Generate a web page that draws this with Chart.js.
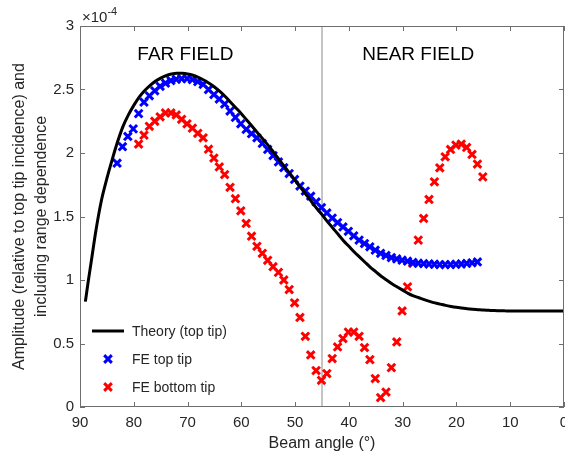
<!DOCTYPE html>
<html>
<head>
<meta charset="utf-8">
<script src="https://cdn.jsdelivr.net/npm/chart.js@4/dist/chart.umd.min.js"></script>
<style>
  html, body { margin: 0; padding: 0; background: #fff; }
</style>
</head>
<body>
<canvas id="beamChart" width="565" height="456"></canvas>
<script>
// amplitudes are in units of 1e-4 (axis shows the x10^-4 multiplier)
const theoryAngles = [89, 88.5, 88, 87, 86, 85, 84, 83, 82, 81, 80, 79, 78, 77, 76, 75, 74, 73, 72, 71,
  70, 69, 68, 67, 66, 65, 64, 63, 62, 61, 60, 59, 58, 57, 56, 55, 54, 53, 52, 51,
  50, 49, 48, 47, 46, 45, 44, 43, 42, 41, 40, 39, 38, 37, 36, 35, 34, 33, 32, 31,
  30, 29, 28, 27, 26, 25, 24, 23, 22, 21, 20, 19, 18, 17, 16, 15, 14, 13, 12, 11,
  10, 8, 6, 4, 2, 0];
const theoryAmp = [0.83, 0.98, 1.12, 1.40, 1.63, 1.80, 1.95, 2.09, 2.21, 2.30, 2.375, 2.44, 2.49, 2.53, 2.565, 2.59, 2.61, 2.622, 2.628, 2.627,
  2.622, 2.612, 2.595, 2.575, 2.55, 2.52, 2.485, 2.445, 2.40, 2.355, 2.31, 2.26, 2.21, 2.16, 2.11, 2.06, 2.005, 1.95, 1.895, 1.84,
  1.785, 1.73, 1.675, 1.62, 1.565, 1.515, 1.46, 1.41, 1.36, 1.31, 1.265, 1.22, 1.18, 1.14, 1.10, 1.065, 1.03, 1.00, 0.97, 0.945,
  0.92, 0.895, 0.875, 0.86, 0.845, 0.832, 0.82, 0.81, 0.80, 0.792, 0.785, 0.779, 0.773, 0.769, 0.766, 0.763, 0.761, 0.759, 0.758, 0.757,
  0.756, 0.755, 0.755, 0.755, 0.755, 0.755];

const topTipAngles = [83.1, 82.1, 81.1, 80.1, 79.1, 78.1, 77.1, 76.1, 75.1, 74.1, 73.1, 72.1, 71.1, 70.1, 69.1, 68.1, 67.1,
  66.1, 65.1, 64.1, 63.1, 62.1, 61.1, 60.1, 59.1, 58.1, 57.1, 56.1, 55.1, 54.1, 53.1, 52.1, 51.1, 50.1,
  49.1, 48.1, 47.1, 46.1, 45.1, 44.1, 43.1, 42.1, 41.1, 40.1, 39.1, 38.1, 37.1, 36.1, 35.1, 34.1, 33.1,
  32.1, 31.1, 30.1, 29.1, 28.1, 27.1, 26.1, 25.1, 24.1, 23.1, 22.1, 21.1, 20.1, 19.1, 18.1, 17.1, 16.1];
const topTipAmp = [1.92, 2.05, 2.13, 2.19, 2.31, 2.40, 2.45, 2.49, 2.525, 2.55, 2.57, 2.58, 2.585, 2.585, 2.578, 2.562, 2.54,
  2.50, 2.46, 2.425, 2.385, 2.33, 2.28, 2.23, 2.186, 2.152, 2.12, 2.075, 2.028, 1.98, 1.93, 1.884, 1.838, 1.792,
  1.74, 1.70, 1.66, 1.615, 1.57, 1.528, 1.488, 1.452, 1.418, 1.383, 1.348, 1.314, 1.287, 1.261, 1.235, 1.21, 1.193,
  1.177, 1.166, 1.156, 1.148, 1.138, 1.132, 1.128, 1.126, 1.124, 1.122, 1.122, 1.122, 1.124, 1.126, 1.13, 1.135, 1.142];

const bottomTipAngles = [79.1, 78.1, 77.1, 76.1, 75.1, 74.1, 73.1, 72.1, 71.1, 70.1, 69.1, 68.1, 67.1,
  66.1, 65.1, 64.1, 63.1, 62.1, 61.1, 60.1, 59.1, 58.1, 57.1, 56.1, 55.1, 54.1, 53.1, 52.1, 51.1, 50.1,
  49.1, 48.1, 47.1, 46.1, 45.1, 44.1, 43.1, 42.1, 41.1, 40.1, 39.1, 38.1, 37.1, 36.1, 35.1, 34.1, 33.1,
  32.1, 31.1, 30.1, 29.1, 28.1, 27.1, 26.1, 25.1, 24.1, 23.1, 22.1, 21.1, 20.1, 19.1, 18.1, 17.1, 16.1, 15.1];
const bottomTipAmp = [2.07, 2.14, 2.21, 2.25, 2.285, 2.315, 2.315, 2.30, 2.265, 2.23, 2.195, 2.155, 2.12,
  2.03, 1.96, 1.89, 1.83, 1.73, 1.64, 1.545, 1.445, 1.345, 1.265, 1.21, 1.155, 1.105, 1.06, 1.00, 0.925, 0.82,
  0.705, 0.557, 0.41, 0.287, 0.21, 0.263, 0.381, 0.473, 0.539, 0.59, 0.59, 0.557, 0.468, 0.373, 0.224, 0.074, 0.118,
  0.31, 0.512, 0.756, 0.946, 1.13, 1.314, 1.485, 1.634, 1.773, 1.883, 1.97, 2.028, 2.062, 2.07, 2.044, 1.989, 1.913, 1.812];

const fieldBoundary = 45;
const xTickValues = [0, 10, 20, 30, 40, 50, 60, 70, 80, 90];
const yTickValues = [0, 0.5, 1, 1.5, 2, 2.5, 3];
const seriesNames = ['Theory (top tip)', 'FE top tip', 'FE bottom tip'];

const pairUp = (xs, ys) => xs.map((v, i) => ({ x: v, y: ys[i] }));
const FONT = '"Liberation Sans", Arial, Helvetica, sans-serif';
const TEXT = '#262626';

// box, inward ticks, region captions and the legend, drawn after the data
const matlabAxes = {
  id: 'matlabAxes',
  afterDatasetsDraw(chart) {
    const { ctx, chartArea: a, scales: { x, y } } = chart;
    ctx.save();
    ctx.strokeStyle = '#6e6e6e';
    ctx.lineWidth = 1;
    ctx.strokeRect(a.left + 0.5, a.top + 0.5, a.right - a.left - 1, a.bottom - a.top - 1);
    ctx.beginPath();
    x.ticks.forEach(t => {
      const px = Math.round(x.getPixelForValue(t.value)) + 0.5;
      ctx.moveTo(px, a.bottom); ctx.lineTo(px, a.bottom - 5);
      ctx.moveTo(px, a.top); ctx.lineTo(px, a.top + 5);
    });
    y.ticks.forEach(t => {
      const py = Math.round(y.getPixelForValue(t.value)) + 0.5;
      ctx.moveTo(a.left, py); ctx.lineTo(a.left + 5, py);
      ctx.moveTo(a.right, py); ctx.lineTo(a.right - 5, py);
    });
    ctx.stroke();

    // exponent label
    ctx.fillStyle = TEXT;
    ctx.textAlign = 'left';
    ctx.textBaseline = 'alphabetic';
    ctx.font = '15px ' + FONT;
    ctx.fillText('\u00d710', a.left + 2, a.top - 4);
    const w = ctx.measureText('\u00d710').width;
    ctx.font = '11px ' + FONT;
    ctx.fillText('-4', a.left + 2 + w, a.top - 11);

    // region captions
    ctx.fillStyle = '#000';
    ctx.font = '19px ' + FONT;
    ctx.textAlign = 'center';
    ctx.fillText('FAR FIELD', x.getPixelForValue(70.4), y.getPixelForValue(2.73));
    ctx.fillText('NEAR FIELD', x.getPixelForValue(27.1), y.getPixelForValue(2.73));

    // legend
    const ds = chart.data.datasets;
    const lx = a.left + 12, tx = a.left + 52;
    const rows = [a.bottom - 76, a.bottom - 48, a.bottom - 20];
    ctx.font = '14px ' + FONT;
    ctx.textAlign = 'left';
    ctx.textBaseline = 'middle';
    ctx.strokeStyle = ds[0].borderColor;
    ctx.lineWidth = ds[0].borderWidth;
    ctx.beginPath();
    ctx.moveTo(lx, rows[0]); ctx.lineTo(lx + 32, rows[0]);
    ctx.stroke();
    [1, 2].forEach(i => {
      const r = ds[i].pointRadius * Math.SQRT1_2;
      const cx = lx + 16, cy = rows[i];
      ctx.strokeStyle = ds[i].pointBorderColor;
      ctx.lineWidth = ds[i].pointBorderWidth;
      ctx.beginPath();
      ctx.moveTo(cx - r, cy - r); ctx.lineTo(cx + r, cy + r);
      ctx.moveTo(cx - r, cy + r); ctx.lineTo(cx + r, cy - r);
      ctx.stroke();
    });
    ctx.fillStyle = TEXT;
    seriesNames.forEach((name, i) => ctx.fillText(name, tx, rows[i] + 1));
    ctx.restore();
  }
};

new Chart(document.getElementById('beamChart'), {
  type: 'scatter',
  data: {
    datasets: [{
      label: seriesNames[0],
      type: 'line',
      data: pairUp(theoryAngles, theoryAmp),
      borderColor: '#000',
      borderWidth: 3,
      pointRadius: 0,
      cubicInterpolationMode: 'monotone',
      fill: false
    }, {
      label: seriesNames[1],
      data: pairUp(topTipAngles, topTipAmp),
      pointStyle: 'crossRot',
      pointRadius: 5.4,
      pointBorderWidth: 3,
      pointBorderColor: '#0000ff',
      borderColor: '#0000ff'
    }, {
      label: seriesNames[2],
      data: pairUp(bottomTipAngles, bottomTipAmp),
      pointStyle: 'crossRot',
      pointRadius: 5.4,
      pointBorderWidth: 3,
      pointBorderColor: '#ff0000',
      borderColor: '#ff0000'
    }, {
      label: 'boundary',
      type: 'line',
      data: [{ x: fieldBoundary, y: yTickValues[0] }, { x: fieldBoundary, y: yTickValues[yTickValues.length - 1] }],
      borderColor: '#8a8a8a',
      borderWidth: 1,
      pointRadius: 0,
      order: 10
    }]
  },
  options: {
    responsive: false,
    animation: false,
    layout: { autoPadding: false, padding: { top: 26, right: 1, left: 0, bottom: 0 } },
    plugins: {
      legend: { display: false },
      tooltip: { enabled: false }
    },
    scales: {
      x: {
        type: 'linear',
        reverse: true,
        min: 0,
        max: 90,
        afterBuildTicks: s => { s.ticks = xTickValues.map(v => ({ value: v })); },
        afterFit: s => { s.height = 49; },
        grid: { display: false, drawTicks: false },
        border: { display: false },
        ticks: { color: TEXT, font: { family: FONT, size: 15 }, padding: 7, maxRotation: 0 },
        title: {
          display: true,
          text: 'Beam angle (\u00b0)',
          color: TEXT,
          font: { family: FONT, size: 16 },
          padding: { top: 0, bottom: 3 }
        }
      },
      y: {
        min: 0,
        max: 3,
        afterBuildTicks: s => { s.ticks = yTickValues.map(v => ({ value: v })); },
        afterFit: s => { s.width = 80; },
        grid: { display: false, drawTicks: false },
        border: { display: false },
        ticks: { color: TEXT, font: { family: FONT, size: 15 }, padding: 6, callback: v => String(v) },
        title: {
          display: true,
          text: ['Amplitude (relative to top tip incidence) and', 'including range dependence'],
          color: TEXT,
          font: { family: FONT, size: 16, lineHeight: 1.35 },
          padding: { top: 9, bottom: 0 }
        }
      }
    }
  },
  plugins: [matlabAxes]
});
</script>
</body>
</html>
